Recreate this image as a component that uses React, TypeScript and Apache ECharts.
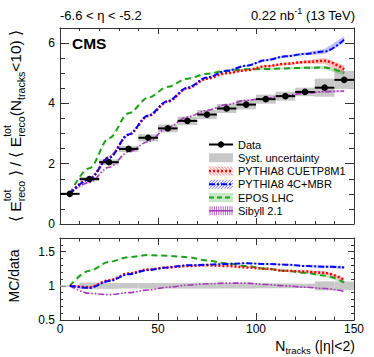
import React, { useEffect, useRef } from "react";
import * as echarts from "echarts";

// ---------- data ----------
const binCenters = [5, 15, 25, 35, 45, 55, 65, 75, 85, 95, 105, 115, 125, 135, 145];
const binHalfWidth = 5;
const dataValues = [1.0, 1.49, 2.05, 2.49, 2.86, 3.17, 3.42, 3.63, 3.83, 3.96, 4.14, 4.24, 4.38, 4.52, 4.78];
const systUnc = [0.01, 0.07, 0.09, 0.1, 0.12, 0.13, 0.14, 0.15, 0.15, 0.16, 0.15, 0.15, 0.14, 0.3, 0.3];

const cuetp8m1 = [1.0, 1.5, 2.21, 2.96, 3.58, 4.06, 4.5, 4.82, 5.0, 5.1, 5.23, 5.31, 5.37, 5.41, 5.13];
const mbr4c = [1.0, 1.48, 2.2, 2.97, 3.6, 4.08, 4.52, 4.86, 5.08, 5.25, 5.43, 5.56, 5.64, 5.72, 6.12];
const eposLhc = [1.0, 1.85, 2.84, 3.67, 4.19, 4.55, 4.82, 4.98, 5.08, 5.13, 5.14, 5.16, 5.18, 5.19, 5.01];
const sibyll = [1.0, 1.38, 1.88, 2.39, 2.73, 3.2, 3.55, 3.77, 3.96, 4.1, 4.17, 4.26, 4.34, 4.39, 4.41];

// MC statistical uncertainty (half-width of the hatched bands)
const cuetp8m1Err = [0, 0.01, 0.01, 0.01, 0.01, 0.01, 0.015, 0.015, 0.02, 0.025, 0.03, 0.04, 0.05, 0.1, 0.13];
const mbr4cErr = [0, 0.01, 0.01, 0.01, 0.01, 0.01, 0.015, 0.015, 0.02, 0.025, 0.03, 0.035, 0.045, 0.08, 0.11];
const eposErr = [0, 0.01, 0.01, 0.01, 0.01, 0.01, 0.01, 0.015, 0.02, 0.02, 0.025, 0.03, 0.04, 0.06, 0.08];
const sibyllErr = [0, 0.01, 0.01, 0.01, 0.01, 0.01, 0.01, 0.01, 0.015, 0.02, 0.02, 0.025, 0.03, 0.035, 0.04];

const ratioCuetp8m1 = [1.0, 0.98, 1.08, 1.18, 1.24, 1.27, 1.29, 1.3, 1.29, 1.27, 1.25, 1.22, 1.21, 1.19, 1.09];
const ratioMbr4c = [1.0, 0.97, 1.07, 1.17, 1.23, 1.27, 1.3, 1.31, 1.32, 1.33, 1.32, 1.31, 1.29, 1.28, 1.27];
const ratioEpos = [1.0, 1.22, 1.35, 1.42, 1.45, 1.44, 1.42, 1.37, 1.33, 1.29, 1.25, 1.22, 1.19, 1.15, 1.05];
const ratioSibyll = [1.0, 0.89, 0.87, 0.9, 0.94, 0.98, 1.01, 1.03, 1.04, 1.04, 1.02, 1.0, 0.98, 0.96, 0.92];

const legendLabels = ["Data", "Syst. uncertainty", "PYTHIA8 CUETP8M1", "PYTHIA8 4C+MBR", "EPOS LHC", "Sibyll 2.1"];

const xTicksMajor = 50;
const xTicksMinor = 10;

// ---------- styles ----------
const FONT = "'Liberation Sans', Arial, Helvetica, sans-serif";
const RED = "#ff0000";
const BLUE = "#0000ff";
const GREEN = "#1ea01e";
const PURPLE = "#a23cb4";
const AXIS = "#333333";
const SYST = "#c8c8c8";

let _ctx: CanvasRenderingContext2D | null = null;
function tw(t: string, size: number, weight = "normal") {
  if (!_ctx) _ctx = document.createElement("canvas").getContext("2d");
  _ctx!.font = `${weight} ${size}px ${FONT}`;
  return _ctx!.measureText(t).width;
}

function pairs(xs: number[], ys: number[]) {
  return xs.map((x, i) => [x, ys[i]]);
}

function mkX(grid: number, pos: string, interval: number, len: number, major: boolean, labels: boolean) {
  return {
    type: "value", gridIndex: grid, position: pos, min: 0, max: 150, interval,
    axisLine: { show: major, onZero: false, lineStyle: { color: AXIS, width: 1 } },
    axisTick: { show: true, inside: true, length: len, lineStyle: { color: AXIS, width: 1 } },
    axisLabel: { show: labels, fontFamily: FONT, fontSize: 12, color: "#000", margin: 3 },
    splitLine: { show: false },
  };
}
function mkY(grid: number, pos: string, min: number, max: number, interval: number, len: number, major: boolean, labels: boolean) {
  return {
    type: "value", gridIndex: grid, position: pos, min, max, interval,
    axisLine: { show: major, onZero: false, lineStyle: { color: AXIS, width: 1 } },
    axisTick: { show: true, inside: true, length: len, lineStyle: { color: AXIS, width: 1 } },
    axisLabel: { show: labels, fontFamily: FONT, fontSize: 12, color: "#000", margin: 5, showMaxLabel: false },
    splitLine: { show: false },
  };
}

function lineSeries(name: string, xi: number, yi: number, ys: number[], color: string, type: any, width: number) {
  return {
    name, type: "line", xAxisIndex: xi, yAxisIndex: yi, data: pairs(binCenters, ys),
    showSymbol: false, smooth: 0.35, smoothMonotone: "x", z: 3,
    lineStyle: { color, type, width }, clip: true,
  };
}

function bandSeries(name: string, xi: number, yi: number, ys: number[], errs: number[], fill: string) {
  const data = binCenters.slice(0, -1).map((x, i) => [x, ys[i], errs[i], binCenters[i + 1], ys[i + 1], errs[i + 1]]);
  return {
    name, type: "custom", xAxisIndex: xi, yAxisIndex: yi, data, z: 2, clip: true,
    encode: { x: [0, 3], y: 1 },
    renderItem: (params: any, api: any) => {
      const x0 = api.value(0), y0 = api.value(1), e0 = api.value(2);
      const x1 = api.value(3), y1 = api.value(4), e1 = api.value(5);
      const pts = [
        api.coord([x0, y0 - e0]), api.coord([x1, y1 - e1]),
        api.coord([x1, y1 + e1]), api.coord([x0, y0 + e0]),
      ];
      return { type: "polygon", shape: { points: pts }, style: { fill, stroke: "none" } };
    },
  };
}

function hatch(x0: number, yc: number, w: number, h: number, color: string, dir: "/" | "\\" | "|", step: number) {
  const y0 = yc - h / 2, y1 = yc + h / 2, x1 = x0 + w;
  const out: any[] = [];
  if (dir === "|") {
    for (let x = x0 + 1; x <= x1; x += step)
      out.push({ type: "line", shape: { x1: x, y1: y0, x2: x, y2: y1 }, style: { stroke: color, lineWidth: 1 } });
    return out;
  }
  for (let c = x0 - h; c < x1; c += step) {
    const tmin = Math.max(0, x0 - c), tmax = Math.min(h, x1 - c);
    if (tmin >= tmax) continue;
    if (dir === "/")
      out.push({ type: "line", shape: { x1: c + tmin, y1: y1 - tmin, x2: c + tmax, y2: y1 - tmax }, style: { stroke: color, lineWidth: 1 } });
    else
      out.push({ type: "line", shape: { x1: c + tmin, y1: y0 + tmin, x2: c + tmax, y2: y0 + tmax }, style: { stroke: color, lineWidth: 1 } });
  }
  return out;
}

function buildGraphics() {
  const g: any[] = [];
  // headers
  g.push({ type: "text", x: 60, y: 15, style: { text: "-6.6 < η < -5.2", font: `13px ${FONT}`, fill: "#000", align: "left", verticalAlign: "middle" } });
  const r1 = " (13 TeV)";
  const wR1 = tw(r1, 13);
  const wSup = tw("-1", 9);
  g.push({ type: "text", x: 355, y: 15, style: { text: r1, font: `13px ${FONT}`, fill: "#000", align: "right", verticalAlign: "middle" } });
  g.push({ type: "text", x: 355 - wR1, y: 11, style: { text: "-1", font: `9px ${FONT}`, fill: "#000", align: "right", verticalAlign: "middle" } });
  g.push({ type: "text", x: 355 - wR1 - wSup, y: 15, style: { text: "0.22 nb", font: `13px ${FONT}`, fill: "#000", align: "right", verticalAlign: "middle" } });
  // CMS
  g.push({ type: "text", x: 72, y: 43, style: { text: "CMS", font: `bold 15.5px ${FONT}`, fill: "#000", align: "left", verticalAlign: "middle" } });

  // y title top panel (rotated)
  const tokens: any[] = [
    { k: "m", t: "⟨ " }, { k: "m", t: "E" }, { k: "st", sup: "tot", sub: "reco" },
    { k: "m", t: " ⟩ / ⟨ " }, { k: "m", t: "E" }, { k: "st", sup: "tot", sub: "reco" },
    { k: "m", t: "(N" }, { k: "s", t: "tracks" }, { k: "m", t: "<10) ⟩" },
  ];
  const baseM = 14, baseS = 10;
  const widthAt = (M: number, S: number) =>
    tokens.reduce((acc, tk) => acc + (tk.k === "m" ? tw(tk.t, M) : tk.k === "s" ? tw(tk.t, S) : Math.max(tw(tk.sup, S), tw(tk.sub, S))), 0);
  const targetLen = 194;
  const k = targetLen / widthAt(baseM, baseS);
  const M = baseM * k, S = baseS * k * 0.95;
  const children: any[] = [];
  let cx = 0;
  tokens.forEach((tk) => {
    if (tk.k === "m") {
      children.push({ type: "text", x: cx, y: 0, style: { text: tk.t, font: `${M}px ${FONT}`, fill: "#000", align: "left", verticalAlign: "middle" } });
      cx += tw(tk.t, M);
    } else if (tk.k === "s") {
      children.push({ type: "text", x: cx, y: 5.5, style: { text: tk.t, font: `${S}px ${FONT}`, fill: "#000", align: "left", verticalAlign: "middle" } });
      cx += tw(tk.t, S);
    } else {
      children.push({ type: "text", x: cx, y: -8, style: { text: tk.sup, font: `${S}px ${FONT}`, fill: "#000", align: "left", verticalAlign: "middle" } });
      children.push({ type: "text", x: cx, y: 6, style: { text: tk.sub, font: `${S}px ${FONT}`, fill: "#000", align: "left", verticalAlign: "middle" } });
      cx += Math.max(tw(tk.sup, S), tw(tk.sub, S));
    }
  });
  g.push({ type: "group", x: 15, y: 222, rotation: Math.PI / 2, children });

  // y title bottom panel
  g.push({ type: "text", x: 14, y: 276, rotation: Math.PI / 2, style: { text: "MC/data", font: `14px ${FONT}`, fill: "#000", align: "center", verticalAlign: "middle" } });

  // x title
  const xt1 = " (|η|<2)";
  const wx1 = tw(xt1, 14);
  const wx2 = tw("tracks", 9.5);
  g.push({ type: "text", x: 355, y: 346, style: { text: xt1, font: `14px ${FONT}`, fill: "#000", align: "right", verticalAlign: "middle" } });
  g.push({ type: "text", x: 355 - wx1, y: 350.5, style: { text: "tracks", font: `9.5px ${FONT}`, fill: "#000", align: "right", verticalAlign: "middle" } });
  g.push({ type: "text", x: 355 - wx1 - wx2, y: 346, style: { text: "N", font: `14px ${FONT}`, fill: "#000", align: "right", verticalAlign: "middle" } });

  // legend
  const lx = 209, lw = 24, lh = 9, tx = 238, y0 = 144.5, dy = 13.25;
  legendLabels.forEach((lab, i) => {
    const y = y0 + i * dy;
    if (i === 0) {
      g.push({ type: "line", shape: { x1: lx, y1: y, x2: lx + lw, y2: y }, style: { stroke: "#000", lineWidth: 2 } });
      g.push({ type: "line", shape: { x1: lx + lw / 2, y1: y - 3, x2: lx + lw / 2, y2: y + 3 }, style: { stroke: "#000", lineWidth: 1 } });
      g.push({ type: "circle", shape: { cx: lx + lw / 2, cy: y, r: 3.2 }, style: { fill: "#000" } });
    } else if (i === 1) {
      g.push({ type: "rect", shape: { x: lx, y: y - lh / 2, width: lw, height: lh }, style: { fill: SYST } });
    } else if (i === 2) {
      hatch(lx, y, lw, lh, "rgba(255,0,0,0.55)", "\\", 3).forEach((e) => g.push(e));
      g.push({ type: "line", shape: { x1: lx, y1: y, x2: lx + lw, y2: y }, style: { stroke: RED, lineWidth: 2.5, lineDash: [2, 2] } });
    } else if (i === 3) {
      hatch(lx, y, lw, lh, "rgba(0,0,255,0.55)", "/", 3).forEach((e) => g.push(e));
      g.push({ type: "line", shape: { x1: lx, y1: y, x2: lx + lw, y2: y }, style: { stroke: BLUE, lineWidth: 2, lineDash: [6, 2, 2, 2] } });
    } else if (i === 4) {
      g.push({ type: "rect", shape: { x: lx, y: y - lh / 2, width: lw, height: lh }, style: { fill: "rgba(30,160,30,0.25)" } });
      g.push({ type: "line", shape: { x1: lx, y1: y, x2: lx + lw, y2: y }, style: { stroke: GREEN, lineWidth: 2, lineDash: [5, 3] } });
    } else {
      hatch(lx, y, lw, lh, "rgba(162,60,180,0.8)", "|", 2.2).forEach((e) => g.push(e));
      g.push({ type: "line", shape: { x1: lx, y1: y, x2: lx + lw, y2: y }, style: { stroke: PURPLE, lineWidth: 1.5 } });
    }
    g.push({ type: "text", x: tx, y, style: { text: lab, font: `11px ${FONT}`, fill: "#000", align: "left", verticalAlign: "middle" } });
  });
  return g;
}

export default function App() {
  const ref = useRef<HTMLDivElement>(null);
  useEffect(() => {
    const chart = echarts.init(ref.current!, undefined, { renderer: "svg" });
    const systTop = binCenters.map((x, i) => [x, dataValues[i], systUnc[i]]);
    const systBottom = binCenters.map((x, i) => [x, 1, systUnc[i] / dataValues[i]]);
    const dataPts = binCenters.map((x, i) => [x, dataValues[i]]);
    const rel = (errs: number[], ys: number[], rs: number[]) => errs.map((e, i) => (e / ys[i]) * rs[i]);

    const boxRender = (params: any, api: any) => {
      const x = api.value(0), y = api.value(1), e = api.value(2);
      const p1 = api.coord([x - binHalfWidth, y + e]);
      const p2 = api.coord([x + binHalfWidth, y - e]);
      return { type: "rect", shape: { x: p1[0], y: p1[1], width: p2[0] - p1[0], height: p2[1] - p1[1] }, style: { fill: SYST } };
    };
    const dataRender = (params: any, api: any) => {
      const x = api.value(0), y = api.value(1);
      const l = api.coord([x - binHalfWidth, y]);
      const r = api.coord([x + binHalfWidth, y]);
      const c = api.coord([x, y]);
      return {
        type: "group",
        children: [
          { type: "line", shape: { x1: l[0], y1: l[1], x2: r[0], y2: r[1] }, style: { stroke: "#000", lineWidth: 2 } },
          { type: "circle", shape: { cx: c[0], cy: c[1], r: 3.3 }, style: { fill: "#000" } },
        ],
      };
    };

    const option: any = {
      animation: false,
      backgroundColor: "#fff",
      grid: [
        { left: 60, top: 28, width: 294, height: 196 },
        { left: 60, top: 238, width: 294, height: 82 },
      ],
      xAxis: [
        mkX(0, "bottom", xTicksMajor, 6, true, false),
        mkX(0, "bottom", xTicksMinor, 3, false, false),
        mkX(0, "top", xTicksMajor, 6, true, false),
        mkX(0, "top", xTicksMinor, 3, false, false),
        mkX(1, "bottom", xTicksMajor, 7, true, true),
        mkX(1, "bottom", xTicksMinor, 3.5, false, false),
        mkX(1, "top", xTicksMajor, 7, true, false),
        mkX(1, "top", xTicksMinor, 3.5, false, false),
      ],
      yAxis: [
        mkY(0, "left", 0, 6.5, 2, 9, true, true),
        mkY(0, "left", 0, 6.5, 0.5, 5, false, false),
        mkY(0, "right", 0, 6.5, 2, 9, true, false),
        mkY(0, "right", 0, 6.5, 0.5, 5, false, false),
        mkY(1, "left", 0.5, 1.7, 0.5, 6, true, true),
        mkY(1, "left", 0.5, 1.7, 0.1, 3, false, false),
        mkY(1, "right", 0.5, 1.7, 0.5, 6, true, false),
        mkY(1, "right", 0.5, 1.7, 0.1, 3, false, false),
      ],
      series: [
        { type: "custom", name: "Syst. uncertainty", xAxisIndex: 0, yAxisIndex: 0, data: systTop, renderItem: boxRender, encode: { x: 0, y: 1 }, z: 1, clip: true },
        bandSeries("Sibyll band", 0, 0, sibyll, sibyllErr, "rgba(162,60,180,0.3)"),
        bandSeries("EPOS band", 0, 0, eposLhc, eposErr, "rgba(30,160,30,0.3)"),
        bandSeries("CUETP8M1 band", 0, 0, cuetp8m1, cuetp8m1Err, "rgba(255,0,0,0.25)"),
        bandSeries("4C+MBR band", 0, 0, mbr4c, mbr4cErr, "rgba(0,0,255,0.25)"),
        lineSeries("Sibyll 2.1", 0, 0, sibyll, PURPLE, [6, 2, 1.5, 2, 1.5, 2], 1.6),
        lineSeries("EPOS LHC", 0, 0, eposLhc, GREEN, [6, 4], 2),
        lineSeries("PYTHIA8 CUETP8M1", 0, 0, cuetp8m1, RED, [2, 2], 2.5),
        lineSeries("PYTHIA8 4C+MBR", 0, 0, mbr4c, BLUE, [6, 2, 2, 2], 2),
        { type: "custom", name: "Data", xAxisIndex: 0, yAxisIndex: 0, data: dataPts, renderItem: dataRender, encode: { x: 0, y: 1 }, z: 5, clip: true },

        { type: "custom", name: "Syst. ratio", xAxisIndex: 4, yAxisIndex: 4, data: systBottom, renderItem: boxRender, encode: { x: 0, y: 1 }, z: 1, clip: true },
        bandSeries("Sibyll ratio band", 4, 4, ratioSibyll, rel(sibyllErr, sibyll, ratioSibyll), "rgba(162,60,180,0.3)"),
        bandSeries("EPOS ratio band", 4, 4, ratioEpos, rel(eposErr, eposLhc, ratioEpos), "rgba(30,160,30,0.3)"),
        bandSeries("CUETP8M1 ratio band", 4, 4, ratioCuetp8m1, rel(cuetp8m1Err, cuetp8m1, ratioCuetp8m1), "rgba(255,0,0,0.25)"),
        bandSeries("4C+MBR ratio band", 4, 4, ratioMbr4c, rel(mbr4cErr, mbr4c, ratioMbr4c), "rgba(0,0,255,0.25)"),
        lineSeries("Sibyll ratio", 4, 4, ratioSibyll, PURPLE, [6, 2, 1.5, 2, 1.5, 2], 1.6),
        lineSeries("EPOS ratio", 4, 4, ratioEpos, GREEN, [6, 4], 2),
        lineSeries("CUETP8M1 ratio", 4, 4, ratioCuetp8m1, RED, [2, 2], 2.5),
        lineSeries("4C+MBR ratio", 4, 4, ratioMbr4c, BLUE, [6, 2, 2, 2], 2),
      ],
      graphic: buildGraphics(),
    };
    chart.setOption(option);
    return () => chart.dispose();
  }, []);
  return <div ref={ref} style={{ position: "fixed", left: 0, top: 0, width: 374, height: 357, background: "#fff" }} />;
}
